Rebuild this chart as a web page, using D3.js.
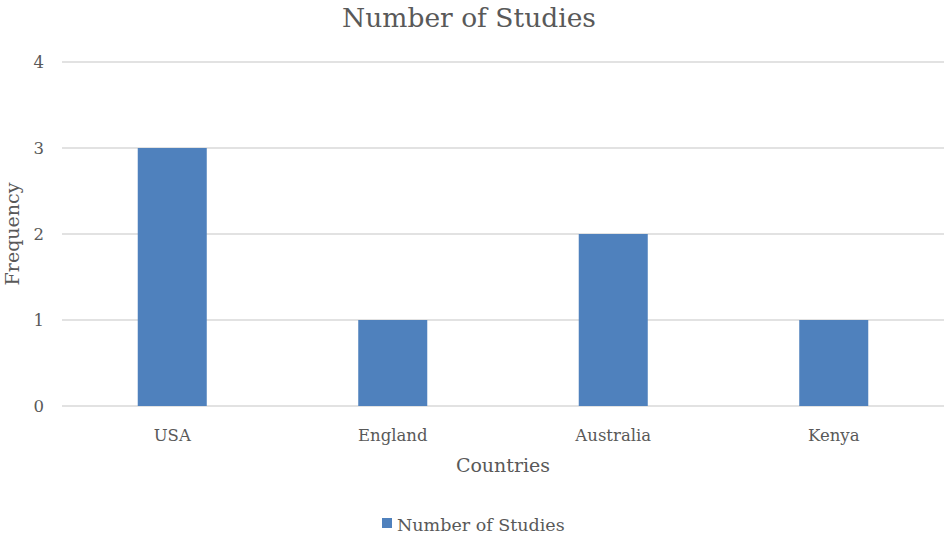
<!DOCTYPE html>
<html><head><meta charset="utf-8">
<script src="https://cdn.jsdelivr.net/npm/d3@7"></script>
<style>body{margin:0;background:#fff}svg{display:block}text{font-family:"DejaVu Serif",serif;fill:#595959}</style>
</head><body><svg id="c" width="947" height="538"></svg>
<script>
const categories = ["USA","England","Australia","Kenya"];
const values = [3,1,2,1];
const yTicks = [0,1,2,3,4];
const seriesName = "Number of Studies";

const svg = d3.select("#c");
const m = {left:62, right:3, top:62, bottom:132};
const W = 947, H = 538;
const x = d3.scaleBand().domain(categories).range([m.left, W-m.right]).paddingInner(0.687).paddingOuter(0.3435);
const y = d3.scaleLinear().domain([0,4]).range([H-m.bottom, m.top]);

svg.append("g").selectAll("line").data(yTicks).join("line")
  .attr("x1", m.left).attr("x2", W-m.right)
  .attr("y1", d=>y(d)).attr("y2", d=>y(d))
  .attr("stroke","#d9d9d9").attr("stroke-width",1.5);

svg.append("g").selectAll("text").data(yTicks).join("text")
  .attr("x", 44).attr("y", d=>y(d)).attr("dy","0.35em")
  .attr("text-anchor","end").attr("font-size",16.5).text(d=>d);

svg.append("g").selectAll("rect").data(values).join("rect")
  .attr("x",(d,i)=>x(categories[i])).attr("width",x.bandwidth())
  .attr("y",d=>y(d)).attr("height",d=>y(0)-y(d)).attr("fill","#4f81bd");

svg.append("g").selectAll("text").data(categories).join("text")
  .attr("x", d=>x(d)+x.bandwidth()/2).attr("y", 441)
  .attr("text-anchor","middle").attr("font-size",16.5).text(d=>d);

svg.append("text").attr("x",503).attr("y",472)
  .attr("text-anchor","middle").attr("font-size",19).text("Countries");

svg.append("text").attr("transform","translate(19,234) rotate(-90)")
  .attr("text-anchor","middle").attr("font-size",19).text("Frequency");

svg.append("text").attr("x",469).attr("y",27)
  .attr("text-anchor","middle").attr("font-size",26.5).text(seriesName);

svg.append("rect").attr("x",382).attr("y",518).attr("width",10).attr("height",10).attr("fill","#4f81bd");
svg.append("text").attr("x",397).attr("y",531).attr("font-size",17.5).text(seriesName);
</script></body></html>
